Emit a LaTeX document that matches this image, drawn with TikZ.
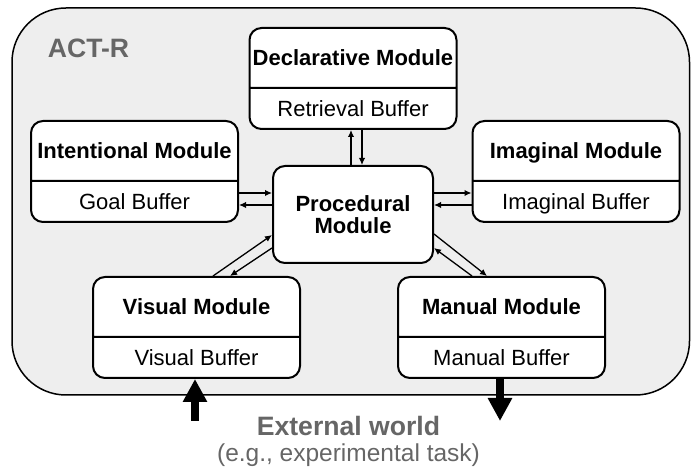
\documentclass[tikz,border=0pt]{standalone}
\usepackage{fontspec}
\setmainfont{Liberation Sans}
\usetikzlibrary{arrows.meta,positioning,calc,shapes.multipart}
\definecolor{actrgray}{HTML}{EEEEEE}
\definecolor{labelgray}{HTML}{666666}
\newcommand{\modstrut}{\rule[-10.5pt]{0pt}{29pt}}
\newcommand{\bufstrut}{\rule[-5.75pt]{0pt}{19.5pt}}
\tikzset{
    %Define standard arrow tip
    >={Latex[length=3.5pt,width=3.2pt]},
    module/.style={
      rectangle split, rectangle split parts=2,
      rounded corners=6pt,
      draw=black, line width=1pt, fill=white,
      minimum width=103.5pt,
      inner xsep=0pt, inner ysep=0pt,
      font=\fontsize{11}{13}\selectfont},
    proc/.style={
      rectangle,
      rounded corners=6pt,
      draw=black, line width=1pt, fill=white,
      minimum width=80pt,
      minimum height=48.5pt,
      align=center,
      font=\bfseries\fontsize{11}{11}\selectfont},
    link/.style={->, line width=0.65pt},
    io/.style={-{Triangle[length=11.5pt,width=11.5pt]}, line width=4pt},
    title/.style={
      text=labelgray,
      inner sep=0pt},
}

\begin{document}
\begin{tikzpicture}[x=0.5pt,y=-0.5pt]
    \useasboundingbox (0,0) rectangle (691,469);
    % ACT-R frame
    \draw [fill=actrgray, line width=0.75pt, rounded corners=27pt]
          (12,8) rectangle (689.5,395);
    \node (actr) [title, font=\bfseries\fontsize{13.3}{16}\selectfont] at (88.5,48)
          {ACT-R};

    % modules
    \node (proc) [proc] at (353,214.5)
          {Procedural\\Module};
    \node (decl) [module] at (353,78.5)
          {\textbf{Declarative Module}\modstrut \nodepart{two} Retrieval Buffer\bufstrut};
    \node (int) [module] at (134.5,171.5)
          {\textbf{Intentional Module}\modstrut \nodepart{two} Goal Buffer\bufstrut};
    \node (imag) [module] at (576,171.5)
          {\textbf{Imaginal Module}\modstrut \nodepart{two} Imaginal Buffer\bufstrut};
    \node (vis) [module] at (196.5,327.5)
          {\textbf{Visual Module}\modstrut \nodepart{two} Visual Buffer\bufstrut};
    \node (man) [module] at (501.5,327.5)
          {\textbf{Manual Module}\modstrut \nodepart{two} Manual Buffer\bufstrut};

    % buffer links
    \draw [link] ($(proc.north)+(-2,0)$) -- ($(decl.south)+(-2,0)$);
    \draw [link] ($(decl.south)+(9,0)$) -- ($(proc.north)+(9,0)$);
    \draw [link] ($(int.east)+(0,21.5)$) -- ($(proc.west)+(0,-21.5)$);
    \draw [link] ($(proc.west)+(0,-9.5)$) -- ($(int.east)+(0,33.5)$);
    \draw [link] ($(proc.east)+(0,-21.5)$) -- ($(imag.west)+(0,21.5)$);
    \draw [link] ($(imag.west)+(0,33.5)$) -- ($(proc.east)+(0,-9.5)$);
    \draw [link] ($(vis.north)+(16.5,0)$) -- ($(proc.west)+(0,20.5)$);
    \draw [link] ($(proc.west)+(0,33.5)$) -- ($(vis.north)+(33.5,0)$);
    \draw [link] ($(proc.east)+(0,19.5)$) -- ($(man.north)+(-14.5,0)$);
    \draw [link] ($(man.north)+(-29.5,0)$) -- ($(proc.east)+(0,33.5)$);

    % external world
    \coordinate (vin) at ($(vis.south)+(-1.5,42)$);
    \coordinate (mout) at ($(man.south)+(-1.5,42)$);
    \draw [io] (vin) -- (vin |- vis.south);
    \draw [io] (mout |- man.south) -- (mout);
    \node (world) [title, font=\bfseries\fontsize{13.3}{16}\selectfont] at (348.5,426)
          {External world};
    \node (task) [title, font=\fontsize{12.25}{15}\selectfont] at (348.5,455.5)
          {(e.g., experimental task)};
\end{tikzpicture}
\end{document}
